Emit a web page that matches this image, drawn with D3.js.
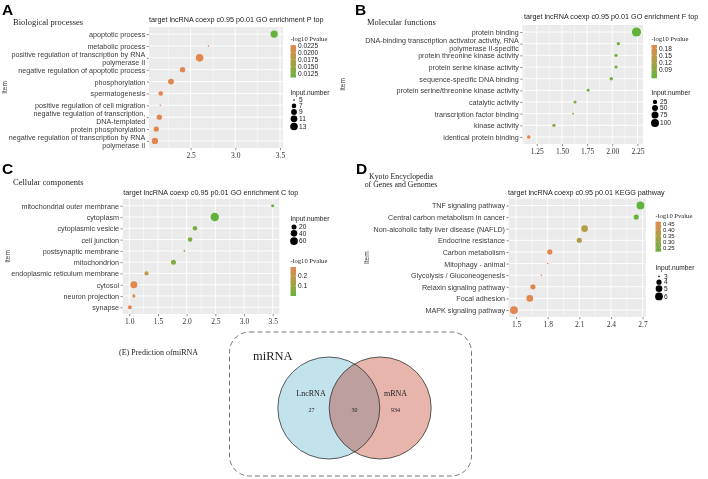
<!DOCTYPE html>
<html><head><meta charset="utf-8">
<script src="https://cdn.jsdelivr.net/npm/d3@7"></script>
<style>body{margin:0;background:#fff} svg{display:block;will-change:transform;opacity:0.999}</style>
</head><body><svg id="c" width="708" height="479"></svg>
<script>
// ---------------- DATA ----------------
// Panel A – Biological processes
const bpTerms = ["apoptotic process","metabolic process","positive regulation of transcription by RNA\npolymerase II","negative regulation of apoptotic process","phosphorylation","spermatogenesis","positive regulation of cell migration","negative regulation of transcription,\nDNA-templated","protein phosphorylation","negative regulation of transcription by RNA\npolymerase II"];
const bpX = [3.435, 2.70, 2.60, 2.41, 2.28, 2.165, 2.16, 2.15, 2.115, 2.10];
const bpCount = [12, 5, 13, 8, 9, 7, 5, 8, 8, 10];
const bpP = [0.0112, 0.0227, 0.0227, 0.0227, 0.0227, 0.0227, 0.0227, 0.0227, 0.0227, 0.0227];
const bpXTicks = [2.5, 3.0, 3.5];
const bpXTickLabels = ["2.5", "3.0", "3.5"];
const bpPBreaks = [0.0225, 0.0200, 0.0175, 0.0150, 0.0125];
const bpPLabels = ["0.0225", "0.0200", "0.0175", "0.0150", "0.0125"];
const bpSizeBreaks = [5, 7, 9, 11, 13];

// Panel B – Molecular functions
const mfTerms = ["protein binding","DNA-binding transcription activator activity, RNA\npolymerase II-specific","protein threonine kinase activity","protein serine kinase activity","sequence-specific DNA binding","protein serine/threonine kinase activity","catalytic activity","transcription factor binding","kinase activity","identical protein binding"];
const mfX = [2.24, 2.06, 2.037, 2.037, 1.99, 1.76, 1.63, 1.61, 1.42, 1.17];
const mfCount = [140, 15, 14, 14, 16, 12, 13, 9, 15, 17];
const mfP = [0.0556, 0.07, 0.07, 0.07, 0.066, 0.075, 0.08, 0.075, 0.095, 0.194];
const mfXTicks = [1.25, 1.5, 1.75, 2.0, 2.25];
const mfXTickLabels = ["1.25", "1.50", "1.75", "2.00", "2.25"];
const mfPBreaks = [0.18, 0.15, 0.12, 0.09];
const mfPLabels = ["0.18", "0.15", "0.12", "0.09"];
const mfSizeBreaks = [25, 50, 75, 100];

// Panel C – Cellular components
const ccTerms = ["mitochondrial outer membrane","cytoplasm","cytoplasmic vesicle","cell junction","postsynaptic membrane","mitochondrion","endoplasmic reticulum membrane","cytosol","neuron projection","synapse"];
const ccX = [3.50, 2.49, 2.145, 2.06, 1.96, 1.77, 1.30, 1.08, 1.08, 1.01];
const ccCount = [7, 72, 16, 16, 4, 20, 13, 45, 7, 11];
const ccP = [0.02, 0.0, 0.03, 0.04, 0.05, 0.05, 0.2, 0.29, 0.27, 0.28];
const ccXTicks = [1.0, 1.5, 2.0, 2.5, 3.0, 3.5];
const ccXTickLabels = ["1.0", "1.5", "2.0", "2.5", "3.0", "3.5"];
const ccPBreaks = [0.2, 0.1];
const ccPLabels = ["0.2", "0.1"];
const ccSizeBreaks = [20, 40, 60];

// Panel D – KEGG pathways
const kgTerms = ["TNF signaling pathway","Central carbon metabolism in cancer","Non-alcoholic fatty liver disease (NAFLD)","Endocrine resistance","Carbon metabolism","Mitophagy - animal","Glycolysis / Gluconeogenesis","Relaxin signaling pathway","Focal adhesion","MAPK signaling pathway"];
const kgX = [2.68, 2.64, 2.15, 2.10, 1.82, 1.80, 1.74, 1.66, 1.63, 1.48];
const kgCount = [6, 4, 5, 4, 4, 3, 3, 4, 5, 6];
const kgP = [0.2162, 0.22, 0.36, 0.355, 0.46, 0.4694, 0.4694, 0.46, 0.46, 0.4694];
const kgXTicks = [1.5, 1.8, 2.1, 2.4, 2.7];
const kgXTickLabels = ["1.5", "1.8", "2.1", "2.4", "2.7"];
const kgPBreaks = [0.45, 0.40, 0.35, 0.30, 0.25];
const kgPLabels = ["0.45", "0.40", "0.35", "0.30", "0.25"];
const kgSizeBreaks = [3, 4, 5, 6];

// Panel E – Venn
const vennSets = ["LncRNA", "mRNA"];
const vennCounts = [27, 30, 934]; // LncRNA only, shared, mRNA only
const vennTitle = "miRNA";

// ---------------- DRAWING ----------------
const svg = d3.select("#c");
const SANS = "'Liberation Sans', Arial, Helvetica, sans-serif";
const SERIF = "'Liberation Serif', 'Times New Roman', serif";
const ORANGE = "#E3854E", GREEN = "#62B23D";
const defs = svg.append("defs");
let gradId = 0;

function drawPanel(c) {
  const g = svg.append("g");
  const [X0, X1, Y0, Y1] = c.box;
  const x = d3.scaleLinear().domain(c.xDomain).range([X0, X1]);
  const y = d3.scalePoint().domain(c.terms).range([Y0, Y1]).padding(0.6);
  const pmin = d3.min(c.p), pmax = d3.max(c.p);
  const color = d3.scaleLinear().domain([pmin, pmax]).range([GREEN, ORANGE]).interpolate(d3.interpolateLab);
  const nmin = d3.min(c.n), nmax = d3.max(c.n);
  const rs = d3.scaleSqrt().domain([0, nmax - nmin]).range(c.rRange);
  const rad = v => rs(Math.max(0, v - nmin));

  // panel background + grid
  g.append("rect").attr("x", X0).attr("y", Y0).attr("width", X1 - X0).attr("height", Y1 - Y0).attr("fill", "#EBEBEB");
  const step = c.xTicks[1] - c.xTicks[0];
  const minor = [];
  for (let v = c.xTicks[0] - step / 2; v <= c.xDomain[1]; v += step) if (v >= c.xDomain[0]) minor.push(v);
  g.selectAll(".mn").data(minor).join("line")
    .attr("x1", d => x(d)).attr("x2", d => x(d)).attr("y1", Y0).attr("y2", Y1)
    .attr("stroke", "#fff").attr("stroke-width", 0.45);
  g.selectAll(".mjx").data(c.xTicks).join("line")
    .attr("x1", d => x(d)).attr("x2", d => x(d)).attr("y1", Y0).attr("y2", Y1)
    .attr("stroke", "#fff").attr("stroke-width", 0.9);
  g.selectAll(".mjy").data(c.terms).join("line")
    .attr("x1", X0).attr("x2", X1).attr("y1", d => y(d)).attr("y2", d => y(d))
    .attr("stroke", "#fff").attr("stroke-width", 0.9);

  // points
  g.selectAll(".pt").data(c.terms).join("circle")
    .attr("cx", (d, i) => x(c.x[i])).attr("cy", d => y(d))
    .attr("r", (d, i) => rad(c.n[i])).attr("fill", (d, i) => color(c.p[i]));

  // x axis
  const xa = g.append("g").attr("transform", `translate(0,${Y1})`)
    .call(d3.axisBottom(x).tickValues(c.xTicks).tickFormat((d, i) => c.xTickLabels[i]).tickSize(2.2).tickPadding(2.2));
  xa.select(".domain").remove();
  xa.selectAll("line").attr("stroke", "#444").attr("stroke-width", 0.6);
  xa.selectAll("text").attr("font-family", SERIF).attr("font-size", 7.5).attr("fill", "#333");

  // y axis
  const ya = g.append("g").attr("transform", `translate(${X0},0)`)
    .call(d3.axisLeft(y).tickSize(2.2).tickPadding(1.5));
  ya.select(".domain").remove();
  ya.selectAll("line").attr("stroke", "#444").attr("stroke-width", 0.6);
  const FS = 7.2, LH = 7.8;
  ya.selectAll("text").attr("font-family", SANS).attr("font-size", FS).attr("fill", "#3a3a3a")
    .each(function (d) {
      const t = d3.select(this);
      const lines = d.split("\n");
      const xx = t.attr("x");
      t.text(null).attr("dy", null);
      lines.forEach((l, k) => {
        t.append("tspan").attr("x", xx)
          .attr("dy", k === 0 ? (-(lines.length - 1) / 2 * LH + FS * 0.34) : LH)
          .text(l);
      });
    });

  // Item label
  g.append("text").attr("transform", `translate(${c.itemX},${(Y0 + Y1) / 2}) rotate(-90)`)
    .attr("text-anchor", "middle").attr("font-family", SANS).attr("font-size", 6.5).attr("fill", "#333").text("Item");

  // title, subtitle, letter
  g.append("text").attr("x", c.titleX).attr("y", c.titleY).attr("font-family", SANS).attr("font-size", 7.2).attr("fill", "#222").text(c.title);
  c.sub.forEach((s, k) => {
    g.append("text").attr("x", c.subX).attr("y", c.subY + k * 8.4).attr("text-anchor", c.subAnchor || "start")
      .attr("font-family", SERIF).attr("font-size", c.subSize || 8.5).attr("fill", "#222").text(s);
  });
  g.append("text").attr("x", c.letterX).attr("y", c.letterY).attr("font-family", SANS).attr("font-weight", "bold")
    .attr("font-size", 15.5).attr("fill", "#000").text(c.letter);

  // colour legend
  const cl = c.colorLeg;
  g.append("text").attr("x", cl.x).attr("y", cl.titleY).attr("font-family", SERIF).attr("font-size", 6.6).attr("fill", "#222").text("-log10 Pvalue");
  const id = "grad" + (gradId++);
  const gr = defs.append("linearGradient").attr("id", id).attr("x1", 0).attr("x2", 0).attr("y1", 0).attr("y2", 1);
  d3.range(0, 1.0001, 0.1).forEach(t => gr.append("stop").attr("offset", t).attr("stop-color", color(pmax - t * (pmax - pmin))));
  g.append("rect").attr("x", cl.x).attr("y", cl.y0).attr("width", 5.5).attr("height", cl.y1 - cl.y0).attr("fill", `url(#${id})`);
  const by = d3.scaleLinear().domain([pmax, pmin]).range([cl.y0, cl.y1]);
  const lfs = cl.fs || 6.6;
  c.pBreaks.forEach((b, i) => {
    g.append("line").attr("x1", cl.x).attr("x2", cl.x + 1.1).attr("y1", by(b)).attr("y2", by(b)).attr("stroke", "#fff").attr("stroke-width", 0.5);
    g.append("line").attr("x1", cl.x + 4.4).attr("x2", cl.x + 5.5).attr("y1", by(b)).attr("y2", by(b)).attr("stroke", "#fff").attr("stroke-width", 0.5);
    g.append("text").attr("x", cl.x + 7.5).attr("y", by(b)).attr("dy", "0.34em").attr("font-family", SANS).attr("font-size", lfs).attr("fill", "#222").text(c.pLabels[i]);
  });

  // size legend
  const sl = c.sizeLeg;
  g.append("text").attr("x", sl.x).attr("y", sl.titleY).attr("font-family", SANS).attr("font-size", 6.6).attr("fill", "#222").text("Input.number");
  let cy = sl.y0;
  c.sizeBreaks.forEach(b => {
    const r = rad(b);
    const h = Math.max(5.8, 2 * r + 0.5);
    const yy = cy + h / 2;
    g.append("circle").attr("cx", sl.x + 3.5).attr("cy", yy).attr("r", r).attr("fill", "#000");
    g.append("text").attr("x", sl.x + 8.5).attr("y", yy).attr("dy", "0.34em").attr("font-family", SANS).attr("font-size", 6.6).attr("fill", "#222").text(b);
    cy += h;
  });
}

drawPanel({
  terms: bpTerms, x: bpX, n: bpCount, p: bpP, xTicks: bpXTicks, xTickLabels: bpXTickLabels,
  pBreaks: bpPBreaks, pLabels: bpPLabels, sizeBreaks: bpSizeBreaks,
  xDomain: [2.034, 3.534], box: [149, 283, 27, 148], rRange: [0.8, 3.8],
  title: "target lncRNA coexp c0.95 p0.01 GO enrichment P top", titleX: 149, titleY: 21.8,
  sub: ["Biological processes"], subX: 13, subY: 24.5, letter: "A", letterX: 2, letterY: 14.5, itemX: 7,
  colorLeg: { x: 290.5, titleY: 41, y0: 45, y1: 77.5 },
  sizeLeg: { x: 290.5, titleY: 94.5, y0: 97.2 }
});

drawPanel({
  terms: mfTerms, x: mfX, n: mfCount, p: mfP, xTicks: mfXTicks, xTickLabels: mfXTickLabels,
  pBreaks: mfPBreaks, pLabels: mfPLabels, sizeBreaks: mfSizeBreaks,
  xDomain: [1.108, 2.305], box: [522.5, 643, 25, 144], rRange: [0.9, 4.6],
  title: "target lncRNA coexp c0.95 p0.01 GO enrichment F top", titleX: 524, titleY: 18.8,
  sub: ["Molecular functions"], subX: 367, subY: 24.5, letter: "B", letterX: 355, letterY: 14.5, itemX: 345,
  colorLeg: { x: 651.5, titleY: 41, y0: 45, y1: 78.3 },
  sizeLeg: { x: 651.5, titleY: 94.5, y0: 99 }
});

drawPanel({
  terms: ccTerms, x: ccX, n: ccCount, p: ccP, xTicks: ccXTicks, xTickLabels: ccXTickLabels,
  pBreaks: ccPBreaks, pLabels: ccPLabels, sizeBreaks: ccSizeBreaks,
  xDomain: [0.885, 3.615], box: [122.7, 279.3, 199, 314], rRange: [0.9, 4.2],
  title: "target lncRNA coexp c0.95 p0.01 GO enrichment C top", titleX: 123.3, titleY: 194.8,
  sub: ["Cellular components"], subX: 13, subY: 184.5, letter: "C", letterX: 2, letterY: 174, itemX: 10,
  colorLeg: { x: 290.5, titleY: 263, y0: 267, y1: 296 },
  sizeLeg: { x: 290.5, titleY: 220.5, y0: 224 }
});

drawPanel({
  terms: kgTerms, x: kgX, n: kgCount, p: kgP, xTicks: kgXTicks, xTickLabels: kgXTickLabels,
  pBreaks: kgPBreaks, pLabels: kgPLabels, sizeBreaks: kgSizeBreaks,
  xDomain: [1.43, 2.73], box: [508.7, 645.7, 198.5, 317], rRange: [0.8, 3.9],
  title: "target lncRNA coexp c0.95 p0.01 KEGG pathway", titleX: 508, titleY: 194.8,
  sub: ["Kyoto Encyclopedia", "of Genes and Genomes"], subX: 401, subY: 178.8, subAnchor: "middle", subSize: 7.8,
  letter: "D", letterX: 356, letterY: 174, itemX: 369,
  colorLeg: { x: 655.5, titleY: 218, y0: 221.7, y1: 251.7, fs: 6 },
  sizeLeg: { x: 655.5, titleY: 270, y0: 273.5 }
});

// ---------- Venn ----------
(function () {
  const g = svg.append("g");
  g.append("text").attr("x", 119).attr("y", 355).attr("font-family", SERIF).attr("font-size", 8).attr("fill", "#222").text("(E) Prediction ofmiRNA");
  g.append("rect").attr("x", 229.5).attr("y", 332).attr("width", 242).attr("height", 144).attr("rx", 20).attr("ry", 20)
    .attr("fill", "none").attr("stroke", "#555").attr("stroke-width", 0.8).attr("stroke-dasharray", "5,3");
  g.append("text").attr("x", 253).attr("y", 360).attr("font-family", SERIF).attr("font-size", 12.5).attr("fill", "#222").text(vennTitle);
  const R = 51, cyV = 408;
  const cx = d3.scaleOrdinal().domain(vennSets).range([328.8, 380.2]);
  const fills = d3.scaleOrdinal().domain(vennSets).range(["#C3E3EC", "#E8B5AC"]);
  g.selectAll(".vc").data(vennSets).join("circle").attr("cx", d => cx(d)).attr("cy", cyV).attr("r", R).attr("fill", d => fills(d));
  defs.append("clipPath").attr("id", "clipL").append("circle").attr("cx", cx(vennSets[0])).attr("cy", cyV).attr("r", R);
  g.append("circle").attr("cx", cx(vennSets[1])).attr("cy", cyV).attr("r", R).attr("fill", "#BD9F9E").attr("clip-path", "url(#clipL)");
  g.selectAll(".vo").data(vennSets).join("circle").attr("cx", d => cx(d)).attr("cy", cyV).attr("r", R)
    .attr("fill", "none").attr("stroke", "#333").attr("stroke-width", 0.8);
  const labX = [311, 395.5];
  vennSets.forEach((s, i) => {
    g.append("text").attr("x", labX[i]).attr("y", 395.5).attr("text-anchor", "middle").attr("font-family", SERIF).attr("font-size", 8).attr("fill", "#222").text(s);
  });
  const numX = [311.5, 354.5, 395.5];
  vennCounts.forEach((v, i) => {
    g.append("text").attr("x", numX[i]).attr("y", 411.5).attr("text-anchor", "middle").attr("font-family", SERIF).attr("font-size", 6).attr("fill", "#222").text(v);
  });
})();
</script>
</body></html>
